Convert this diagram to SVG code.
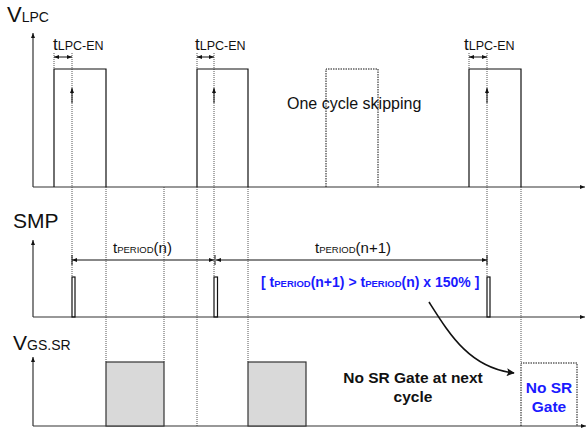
<svg xmlns="http://www.w3.org/2000/svg" width="588" height="428" viewBox="0 0 588 428">
<defs>
<marker id="ahs" viewBox="0 0 10 10" refX="10" refY="5" markerWidth="5" markerHeight="5" orient="auto-start-reverse" markerUnits="userSpaceOnUse"><path d="M0,1 L10,5 L0,9 Z" fill="#111"/></marker>
<marker id="ahc" viewBox="0 0 10 10" refX="9" refY="5" markerWidth="10" markerHeight="8" orient="auto" markerUnits="userSpaceOnUse"><path d="M0,0 L10,5 L0,10 L2,5 Z" fill="#111"/></marker>
<style>
.t{font-family:"Liberation Sans",Arial,sans-serif;fill:#111}
.b{font-family:"Liberation Sans",Arial,sans-serif;fill:#1a1aff;font-weight:bold}
.ax{stroke:#333;stroke-width:1.2;fill:none}
.sig{stroke:#111;stroke-width:1.2;fill:none}
.dot{stroke:#555;stroke-width:1;stroke-dasharray:1 1;fill:none}
.dotk{stroke:#111;stroke-width:1;stroke-dasharray:1.5 1;fill:none}
.dim{stroke:#111;stroke-width:1;fill:none}
.gray{fill:#d9d9d9;stroke:#333;stroke-width:1.2}
</style>
</defs>

<g id="guides">
<line class="dot" x1="54" y1="53" x2="54" y2="69"/>
<line class="dot" x1="72" y1="53" x2="72" y2="277"/>
<line class="dot" x1="106" y1="187" x2="106" y2="362"/>
<line class="dot" x1="164" y1="187" x2="164" y2="362"/>
<line class="dot" x1="197" y1="53" x2="197" y2="69"/>
<line class="dot" x1="197" y1="187" x2="197" y2="426"/>
<line class="dot" x1="214" y1="53" x2="214" y2="277"/>
<line class="dot" x1="248" y1="187" x2="248" y2="362"/>
<line class="dot" x1="469" y1="53" x2="469" y2="69"/>
<line class="dot" x1="487" y1="53" x2="487" y2="277"/>
<line class="dot" x1="521" y1="187" x2="521" y2="363"/>
</g>

<g id="vlpc">
<text class="t" x="7" y="22" font-size="22">V<tspan font-size="14">LPC</tspan></text>
<line class="ax" x1="33" y1="187" x2="33" y2="33" marker-end="url(#ahs)"/>
<line class="ax" x1="33" y1="187" x2="585" y2="187" marker-end="url(#ahs)"/>
<polyline class="sig" points="54,187 54,69 106,69 106,187"/>
<polyline class="sig" points="197,187 197,69 248,69 248,187"/>
<polyline class="sig" points="469,187 469,69 521,69 521,187"/>
<polyline class="dotk" points="326,187 326,69 378,69 378,187"/>
<text class="t" x="287" y="109" font-size="16">One cycle skipping</text>
</g>

<g id="tlpc-en">
<text class="t" x="53" y="50" font-size="17">t<tspan font-size="12.5">LPC-EN</tspan></text>
<text class="t" x="195" y="50" font-size="17">t<tspan font-size="12.5">LPC-EN</tspan></text>
<text class="t" x="464" y="50" font-size="17">t<tspan font-size="12.5">LPC-EN</tspan></text>
</g>

<g id="smp">
<text class="t" x="13" y="228" font-size="21">SMP</text>
<line class="ax" x1="33" y1="317" x2="33" y2="240" marker-end="url(#ahs)"/>
<line class="ax" x1="33" y1="317" x2="585" y2="317" marker-end="url(#ahs)"/>
<rect class="sig" x="72" y="277" width="3" height="40"/>
<rect class="sig" x="214" y="277" width="3.5" height="40"/>
<rect class="sig" x="487" y="277" width="3" height="40"/>
<text class="t" x="113" y="253" font-size="15">t<tspan font-size="9.5">PERIOD</tspan>(n)</text>
<text class="t" x="315" y="253" font-size="15">t<tspan font-size="9.5">PERIOD</tspan>(n+1)</text>
<text class="b" x="261" y="287" font-size="14">[ t<tspan font-size="9.5">PERIOD</tspan>(n+1) &gt; t<tspan font-size="9.5">PERIOD</tspan>(n) x 150% ]</text>
</g>

<g id="vgs">
<text class="t" x="13" y="350" font-size="21">V<tspan font-size="14">GS.SR</tspan></text>
<line class="ax" x1="33" y1="426" x2="33" y2="357" marker-end="url(#ahs)"/>
<line class="ax" x1="33" y1="426" x2="586" y2="426" marker-end="url(#ahs)"/>
<rect class="gray" x="106" y="362" width="58" height="64"/>
<rect class="gray" x="248" y="362" width="58" height="64"/>
<polyline class="dotk" points="521,426 521,363 577,363 577,426"/>
<text class="b" x="549" y="393" font-size="15.5" text-anchor="middle">No SR</text>
<text class="b" x="549" y="412" font-size="15.5" text-anchor="middle">Gate</text>
</g>

<g id="note">
<text class="t" x="413" y="383" font-size="15.5" font-weight="bold" text-anchor="middle">No SR Gate at next</text>
<text class="t" x="413" y="402" font-size="15.5" font-weight="bold" text-anchor="middle">cycle</text>
</g>

<g id="connectors">
<line class="dim" x1="54" y1="57" x2="72" y2="57" marker-start="url(#ahs)" marker-end="url(#ahs)"/>
<line class="dim" x1="197" y1="57" x2="214" y2="57" marker-start="url(#ahs)" marker-end="url(#ahs)"/>
<line class="dim" x1="469" y1="57" x2="487" y2="57" marker-start="url(#ahs)" marker-end="url(#ahs)"/>
<line class="dim" x1="72" y1="103" x2="72" y2="88" marker-end="url(#ahs)"/>
<line class="dim" x1="214" y1="103" x2="214" y2="88" marker-end="url(#ahs)"/>
<line class="dim" x1="487" y1="103" x2="487" y2="88" marker-end="url(#ahs)"/>
<line class="dim" x1="72" y1="260" x2="214" y2="260" marker-start="url(#ahs)" marker-end="url(#ahs)"/>
<line class="dim" x1="216" y1="260" x2="487" y2="260" marker-start="url(#ahs)" marker-end="url(#ahs)"/>
<line class="dim" x1="72" y1="255" x2="72" y2="265"/>
<line class="dim" x1="215" y1="255" x2="215" y2="265"/>
<line class="dim" x1="487" y1="255" x2="487" y2="265"/>
<path d="M429,302 C450,335 470,368 514,373" stroke="#111" stroke-width="1.6" fill="none" marker-end="url(#ahc)"/>
</g>
</svg>
